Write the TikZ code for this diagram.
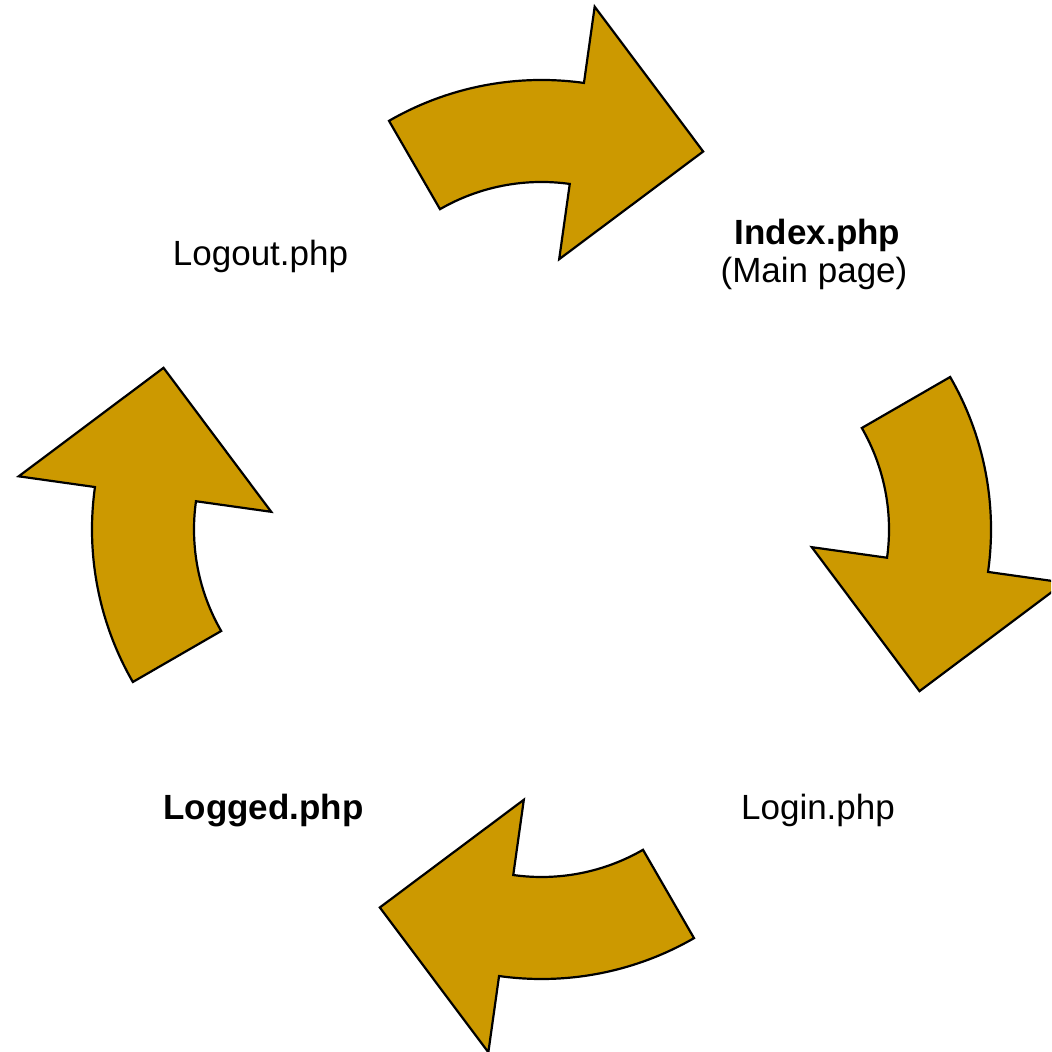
\documentclass[tikz,border=0pt]{standalone}
\usepackage{fontspec}
\setmainfont{Liberation Sans}
\definecolor{arrowgold}{RGB}{204,153,0}
\tikzset{
  cyclearrow/.style={fill=arrowgold, draw=black, line width=1.1pt, line join=miter},
  pagelabel/.style={anchor=base, inner sep=0pt, font=\fontsize{17.5}{21}\selectfont},
  pagelabelbold/.style={pagelabel, font=\fontsize{17.5}{21}\selectfont\bfseries}
}
\begin{document}
\begin{tikzpicture}[x=0.5pt, y=0.5pt]
\useasboundingbox (0,0) rectangle (1051,1052);
\clip (0,0) rectangle (1051,1052);
\foreach \k in {0,1,2,3} {
  \begin{scope}[shift={(541.5,522.5)}, rotate=-90*\k]
    \filldraw[cyclearrow]
      ([shift={(120:305)}]0,144.5) arc[start angle=120, end angle=82, radius=305]
      -- ([shift={(82:382)}]0,144.5)
      -- ([shift={(55.3:284)}]0,144.5)
      -- ([shift={(82:127)}]0,144.5)
      -- ([shift={(82:203)}]0,144.5)
      arc[start angle=82, end angle=120, radius=203]
      -- cycle;
  \end{scope}
}
\node[pagelabelbold] (index) at (817.5,807) {Index.php};
\node[pagelabel] (mainpage) at (814,769) {(Main page)};
\node[pagelabel] (logout) at (260.5,786.3) {Logout.php};
\node[pagelabelbold] (logged) at (263.5,232) {Logged.php};
\node[pagelabel] (login) at (818,232) {Login.php};
\end{tikzpicture}
\end{document}
